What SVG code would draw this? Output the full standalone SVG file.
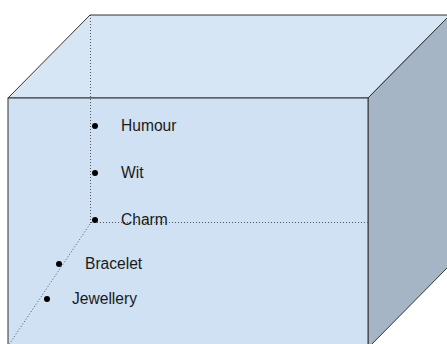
<svg xmlns="http://www.w3.org/2000/svg" width="447" height="344" viewBox="0 0 447 344">
<style>
.edge{stroke:#333;stroke-width:1;stroke-linejoin:miter}
.dot{stroke:#555;stroke-width:1;stroke-dasharray:1 2;fill:none}
.pt{fill:#000}
.lbl{font-family:"Liberation Sans",Arial,sans-serif;font-size:15.6px;fill:#1a1a1a}
</style>
<g id="cube">
<polygon class="edge" points="8,98 90,15 450,15 368,98" fill="#d6e6f5"/>
<polygon class="edge" points="368,98 450,15 450,265 368,348" fill="#a5b5c5"/>
<rect class="edge" x="8" y="98" width="360" height="250" fill="#cfe1f3"/>
</g>
<g id="connectors">
<line class="dot" x1="90.5" y1="15" x2="90.5" y2="223"/>
<line class="dot" x1="91" y1="222.5" x2="368" y2="222.5"/>
<line class="dot" x1="90" y1="224" x2="8" y2="346"/>
</g>
<g id="humour"><circle class="pt" cx="95" cy="126" r="3"/><text class="lbl" x="121" y="131">Humour</text></g>
<g id="wit"><circle class="pt" cx="95" cy="173" r="3"/><text class="lbl" x="121" y="178">Wit</text></g>
<g id="charm"><circle class="pt" cx="95" cy="220" r="3"/><text class="lbl" x="121" y="225">Charm</text></g>
<g id="bracelet"><circle class="pt" cx="59" cy="264" r="3"/><text class="lbl" x="85" y="269">Bracelet</text></g>
<g id="jewellery"><circle class="pt" cx="47" cy="299" r="3"/><text class="lbl" x="72" y="304">Jewellery</text></g>
</svg>
